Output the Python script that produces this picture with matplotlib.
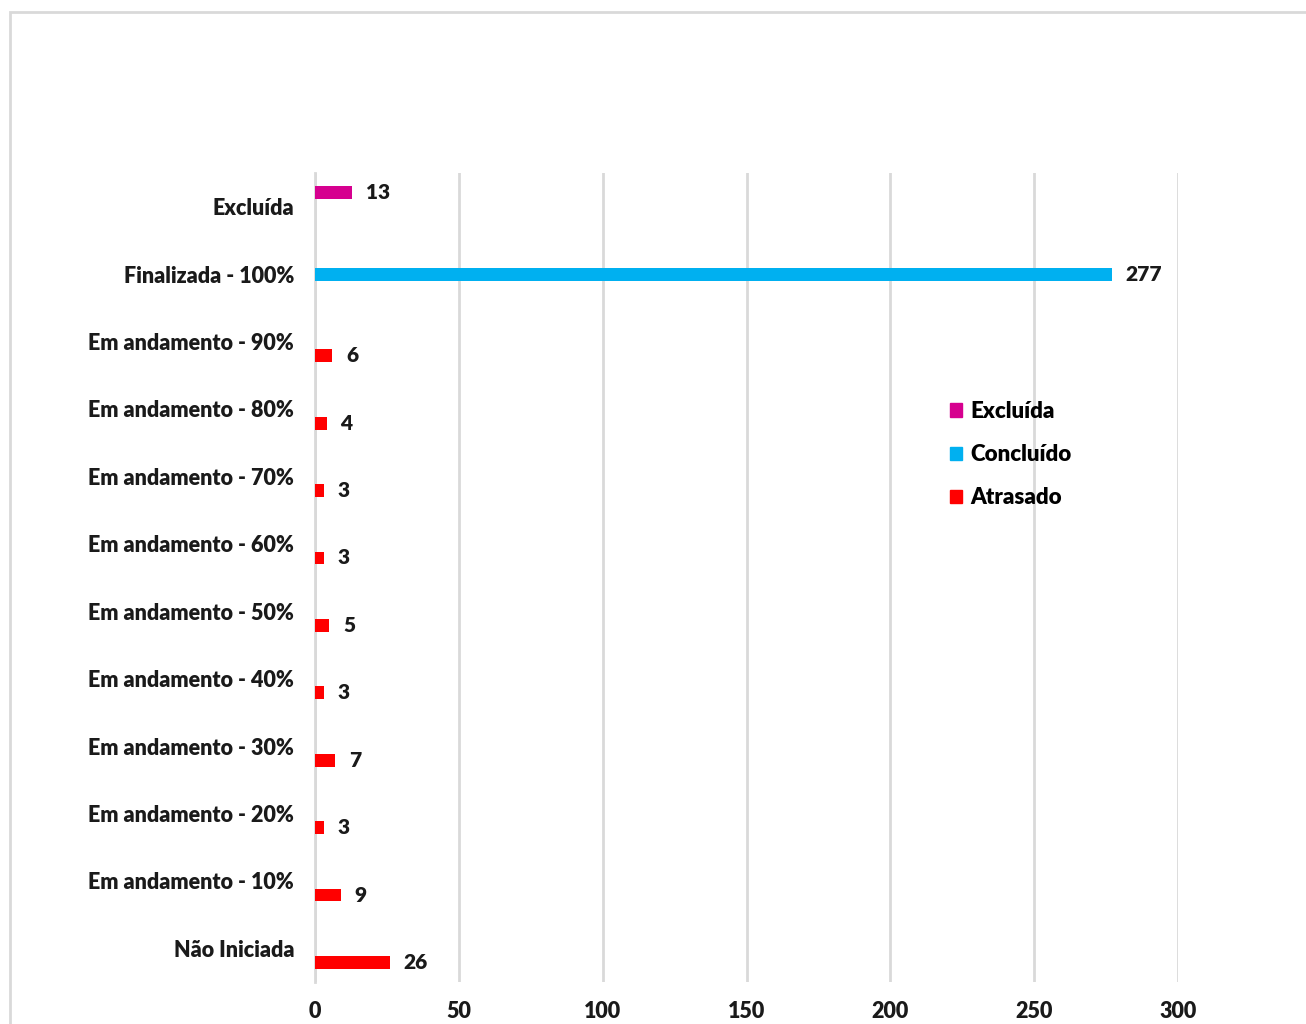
import matplotlib.pyplot as plt
from matplotlib.patches import Rectangle, Patch
import numpy as np

# categories, bottom to top
categories = ['Não Iniciada', 'Em andamento - 10%', 'Em andamento - 20%',
              'Em andamento - 30%', 'Em andamento - 40%', 'Em andamento - 50%',
              'Em andamento - 60%', 'Em andamento - 70%', 'Em andamento - 80%',
              'Em andamento - 90%', 'Finalizada - 100%', 'Excluída']
excluida = [0, 0, 0, 0, 0, 0, 0, 0, 0, 0, 0, 13]
concluido = [0, 0, 0, 0, 0, 0, 0, 0, 0, 0, 277, 0]
atrasado = [26, 9, 3, 7, 3, 5, 3, 3, 4, 6, 0, 0]
xticks = [0, 50, 100, 150, 200, 250, 300]

plt.rcParams['font.family'] = ['Lato', 'DejaVu Sans']
plt.rcParams['font.weight'] = 'heavy'

fig = plt.figure(figsize=(13.06, 10.24), dpi=100)
fig.patches.append(Rectangle((10 / 1306, -0.1), 1.2, 1 - 12 / 1024 + 0.1,
                             transform=fig.transFigure, fill=False,
                             edgecolor='#d9d9d9', linewidth=2))

ax = fig.add_axes([315 / 1306, 1 - 982 / 1024, 863 / 1306, 809 / 1024])
y = np.arange(len(categories))
w = 0.19
off = 0.21
series = [(excluida, off, '#D6008F', 'Excluída'),
          (concluido, 0, '#00B0F0', 'Concluído'),
          (atrasado, -off, '#FF0000', 'Atrasado')]
for vals, o, col, name in series:
    bars = ax.barh(y + o, vals, height=w, color=col, label=name, zorder=3)
    ax.bar_label(bars, labels=[str(v) if v else '' for v in vals],
                 padding=10, fontsize=15, fontweight='heavy', color='#1a1a1a')

ax.set_xlim(0, 300)
ax.set_ylim(-0.5, len(categories) - 0.5)
ax.set_xticks(xticks)
ax.set_yticks(y)
ax.set_yticklabels(categories)
ax.tick_params(length=0, labelsize=15.5, colors='#1a1a1a')
ax.tick_params(axis='x', pad=14)
ax.tick_params(axis='y', pad=15)
ax.grid(axis='x', color='#d9d9d9', linewidth=2, zorder=0)
for s in ['top', 'right', 'bottom']:
    ax.spines[s].set_visible(False)
ax.spines['left'].set_color('#d9d9d9')
ax.spines['left'].set_linewidth(2)

handles = [Patch(color=c, label=n) for _, _, c, n in series]
fig.legend(handles=handles, loc='upper left',
           bbox_to_anchor=(930 / 1306, 1 - 381 / 1024), frameon=False,
           fontsize=16, handlelength=0.55, handleheight=0.55,
           handletextpad=0.35, labelspacing=1.0)

fig.savefig('out.png', dpi=100, facecolor='white')
